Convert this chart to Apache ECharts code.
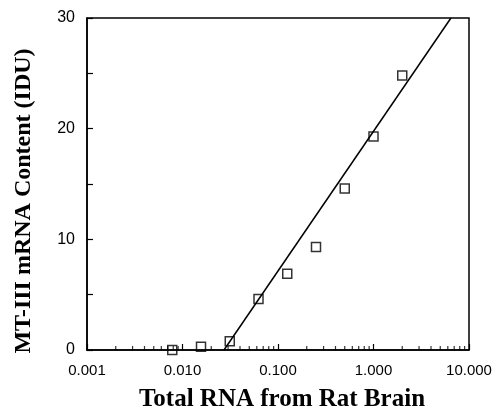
<!DOCTYPE html>
<html>
<head>
<meta charset="utf-8">
<script src="https://cdn.jsdelivr.net/npm/echarts@6/dist/echarts.min.js"></script>
<style>
html, body { margin: 0; padding: 0; background: #fff; }
#chart { width: 495px; height: 411px; }
</style>
</head>
<body>
<div id="chart"></div>
<script>
// total RNA (log scale) and measured MT-III mRNA content
var rnaAmount = [0.0078125, 0.015625, 0.03125, 0.0625, 0.125, 0.25, 0.5, 1, 2];
var mrnaContent = [0, 0.3, 0.8, 4.6, 6.9, 9.3, 14.6, 19.3, 24.8];
// regression line end points
var fitX = [0.0272, 6.47];
var fitY = [0, 30];
// minor tick multipliers per decade
var decades = [0.001, 0.01, 0.1, 1];
var minorSteps = [2, 3, 4, 5, 6, 7, 8, 9];

var points = rnaAmount.map(function (x, i) { return [x, mrnaContent[i]]; });
var fitLine = fitX.map(function (x, i) { return [x, fitY[i]]; });
var minorTicks = [];
decades.forEach(function (d) {
  minorSteps.forEach(function (m) { minorTicks.push([d * m, 0]); });
});

var chart = echarts.init(document.getElementById("chart"));
var option = {
  animation: false,
  backgroundColor: "#fff",
  grid: {
    left: 87, right: 26, top: 18, bottom: 61,
    outerBoundsMode: "none",
    show: true, borderColor: "#000", borderWidth: 1.5
  },
  xAxis: {
    type: "log",
    logBase: 10,
    min: 0.001,
    max: 10,
    name: "Total RNA from Rat Brain",
    nameLocation: "middle",
    nameGap: 37,
    nameMoveOverlap: false,
    nameTextStyle: {
      fontFamily: "Liberation Serif", fontWeight: "bold", fontSize: 25, color: "#000",
      padding: [0, 0, 0, 8]
    },
    axisLine: { lineStyle: { color: "#000", width: 1.5 } },
    axisTick: { inside: true, length: 6, lineStyle: { color: "#000", width: 1.2 } },
    axisLabel: {
      margin: 13,
      fontFamily: "Liberation Sans", fontSize: 15, color: "#000",
      formatter: function (v) { return v.toFixed(3); }
    },
    splitLine: { show: false }
  },
  yAxis: {
    type: "value",
    min: 0,
    max: 30,
    interval: 5,
    name: "MT-III mRNA Content (IDU)",
    nameLocation: "middle",
    nameGap: 51,
    nameMoveOverlap: false,
    nameTextStyle: {
      fontFamily: "Liberation Serif", fontWeight: "bold", fontSize: 24, color: "#000",
      padding: [0, 34, 0, 0]
    },
    axisLine: { show: true, lineStyle: { color: "#000", width: 1.5 } },
    axisTick: { inside: true, length: 6, lineStyle: { color: "#000", width: 1.2 } },
    axisLabel: {
      margin: 12,
      fontFamily: "Liberation Sans", fontSize: 16, color: "#000",
      formatter: function (v) { return v % 10 === 0 ? String(v) : ""; }
    },
    splitLine: { show: false }
  },
  series: [
    {
      type: "scatter",
      data: minorTicks,
      symbol: "rect",
      symbolSize: [1.2, 4],
      symbolOffset: [0, -2],
      itemStyle: { color: "#000" },
      silent: true,
      z: 1
    },
    {
      type: "line",
      data: fitLine,
      showSymbol: false,
      lineStyle: { color: "#000", width: 1.5 },
      z: 3
    },
    {
      type: "scatter",
      data: points,
      symbol: "rect",
      symbolSize: 9,
      itemStyle: { color: "rgba(0,0,0,0)", borderColor: "#000", borderWidth: 1.5 },
      z: 2
    }
  ]
};
chart.setOption(option);
</script>
</body>
</html>
